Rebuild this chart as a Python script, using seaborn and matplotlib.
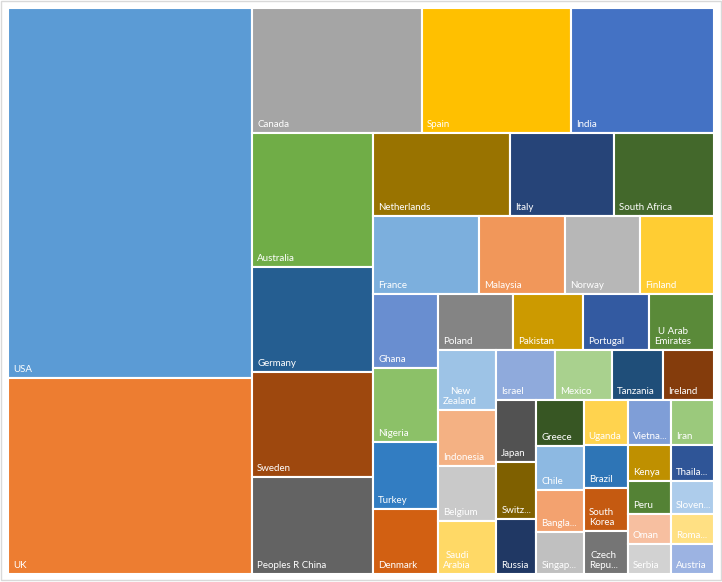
import matplotlib
matplotlib.use('Agg')
import matplotlib.pyplot as plt
from matplotlib.patches import Rectangle
import seaborn as sns

sns.set_theme(style='white')
plt.rcParams['font.family'] = ['Lato', 'DejaVu Sans']

# Countries in data order (largest first), with the label text shown in each tile
countries = ['USA', 'UK', 'Canada', 'Spain', 'India', 'Australia', 'Germany', 'Sweden',
             'Peoples R China', 'Netherlands', 'Italy', 'South Africa', 'France', 'Malaysia',
             'Norway', 'Finland', 'Ghana', 'Nigeria', 'Turkey', 'Denmark', 'Poland', 'Pakistan',
             'Portugal', 'U Arab Emirates', 'New Zealand', 'Indonesia', 'Belgium', 'Saudi Arabia',
             'Israel', 'Mexico', 'Tanzania', 'Ireland', 'Japan', 'Switzerland', 'Russia', 'Greece',
             'Chile', 'Bangladesh', 'Singapore', 'Uganda', 'Vietnam', 'Iran', 'Brazil',
             'South Korea', 'Czech Republic', 'Kenya', 'Thailand', 'Peru', 'Slovenia', 'Oman',
             'Serbia', 'Romania', 'Austria']
labels = ['USA', 'UK', 'Canada', 'Spain', 'India', 'Australia', 'Germany', 'Sweden',
          'Peoples R China', 'Netherlands', 'Italy', 'South Africa', 'France', 'Malaysia',
          'Norway', 'Finland', 'Ghana', 'Nigeria', 'Turkey', 'Denmark', 'Poland', 'Pakistan',
          'Portugal', 'U Arab\nEmirates', 'New\nZealand', 'Indonesia', 'Belgium', 'Saudi\nArabia',
          'Israel', 'Mexico', 'Tanzania', 'Ireland', 'Japan', 'Switz...', 'Russia', 'Greece',
          'Chile', 'Bangla...', 'Singap...', 'Uganda', 'Vietna...', 'Iran', 'Brazil',
          'South\nKorea', 'Czech\nRepu...', 'Kenya', 'Thaila...', 'Peru', 'Sloven...', 'Oman',
          'Serbia', 'Roma...', 'Austria']
values = [902.8, 478.2, 212.5, 186.2, 178.8, 162.1, 127.1, 127.0, 117.4, 113.7, 86.3, 83.0,
          82.7, 67.1, 58.5, 57.7, 48.0, 48.0, 43.6, 42.3, 42.0, 39.2, 37.0, 36.4, 34.8, 32.5,
          31.9, 30.7, 29.5, 28.5, 25.5, 25.5, 24.8, 22.8, 22.0, 21.4, 21.0, 20.0, 19.8, 19.8,
          19.4, 19.4, 18.9, 18.9, 18.9, 15.4, 15.4, 14.2, 14.2, 12.9, 12.9, 12.9, 12.9]
colors = ['#5B9BD5', '#ED7D31', '#A5A5A5', '#FFC000', '#4472C4', '#70AD47',
          '#255E91', '#9E480E', '#636363', '#997300', '#264478', '#43682B',
          '#7CAFDD', '#F1975A', '#B7B7B7', '#FFCD33', '#698ED0', '#8CC168',
          '#327DC2', '#D26012', '#848484', '#CC9A00', '#335AA1', '#5A8A39',
          '#9DC3E6', '#F4B183', '#C9C9C9', '#FFD966', '#8FAADC', '#A9D18E',
          '#1F4E79', '#843C0C', '#525252', '#7F6000', '#203864', '#375623',
          '#8DB9E2', '#F3A26F', '#C0C0C0', '#FFD34E', '#7F9ED7', '#9BC97C',
          '#2E75B6', '#C55A11', '#757575', '#BF9000', '#2F5597', '#548235',
          '#ADCCEB', '#F7BFA0', '#D2D2D2', '#FFE083', '#9CB3E2']

TARGET = 1.15  # preferred tile length / strip thickness


def worst(row, side):
    thick = sum(row) / side
    return max(max(a / thick / thick / TARGET, TARGET * thick * thick / a) for a in row)


def squarify(vals, x, y, w, h):
    # strips along the shorter side, grown while the worst tile improves
    total = sum(vals)
    areas = [v * w * h / total for v in vals]
    rects = []
    i = 0
    while i < len(areas):
        side = min(w, h)
        row = [areas[i]]
        j = i + 1
        while j < len(areas) and worst(row + [areas[j]], side) <= worst(row, side):
            row.append(areas[j])
            j += 1
        s = sum(row)
        if w >= h:
            cw = s / h
            yy = y
            for a in row:
                rects.append((x, yy, cw, a / cw))
                yy += a / cw
            x += cw
            w -= cw
        else:
            rh = s / w
            xx = x
            for a in row:
                rects.append((xx, y, a / rh, rh))
                xx += a / rh
            y += rh
            h -= rh
        i = j
    return rects


fig = plt.figure(figsize=(7.22, 5.82), dpi=100)
ax = fig.add_axes([0, 0, 1, 1])
ax.set_xlim(0, 722)
ax.set_ylim(582, 0)
ax.axis('off')

rects = squarify(values, 8, 8, 706, 566)
for (x, y, w, h), lab, col in zip(rects, labels, colors):
    ax.add_patch(Rectangle((x, y), w, h, facecolor=col, edgecolor='white', linewidth=1.5))
    ax.text(x + 5, y + h - 4, lab, ha='left', va='bottom', multialignment='center',
            color='white', fontsize=7)

# chart area frame
fig.add_artist(Rectangle((0.001, 0.003), 0.997, 0.995, transform=fig.transFigure,
                         fill=False, edgecolor='#d9d9d9', linewidth=1))

fig.savefig('out.png', dpi=100)
